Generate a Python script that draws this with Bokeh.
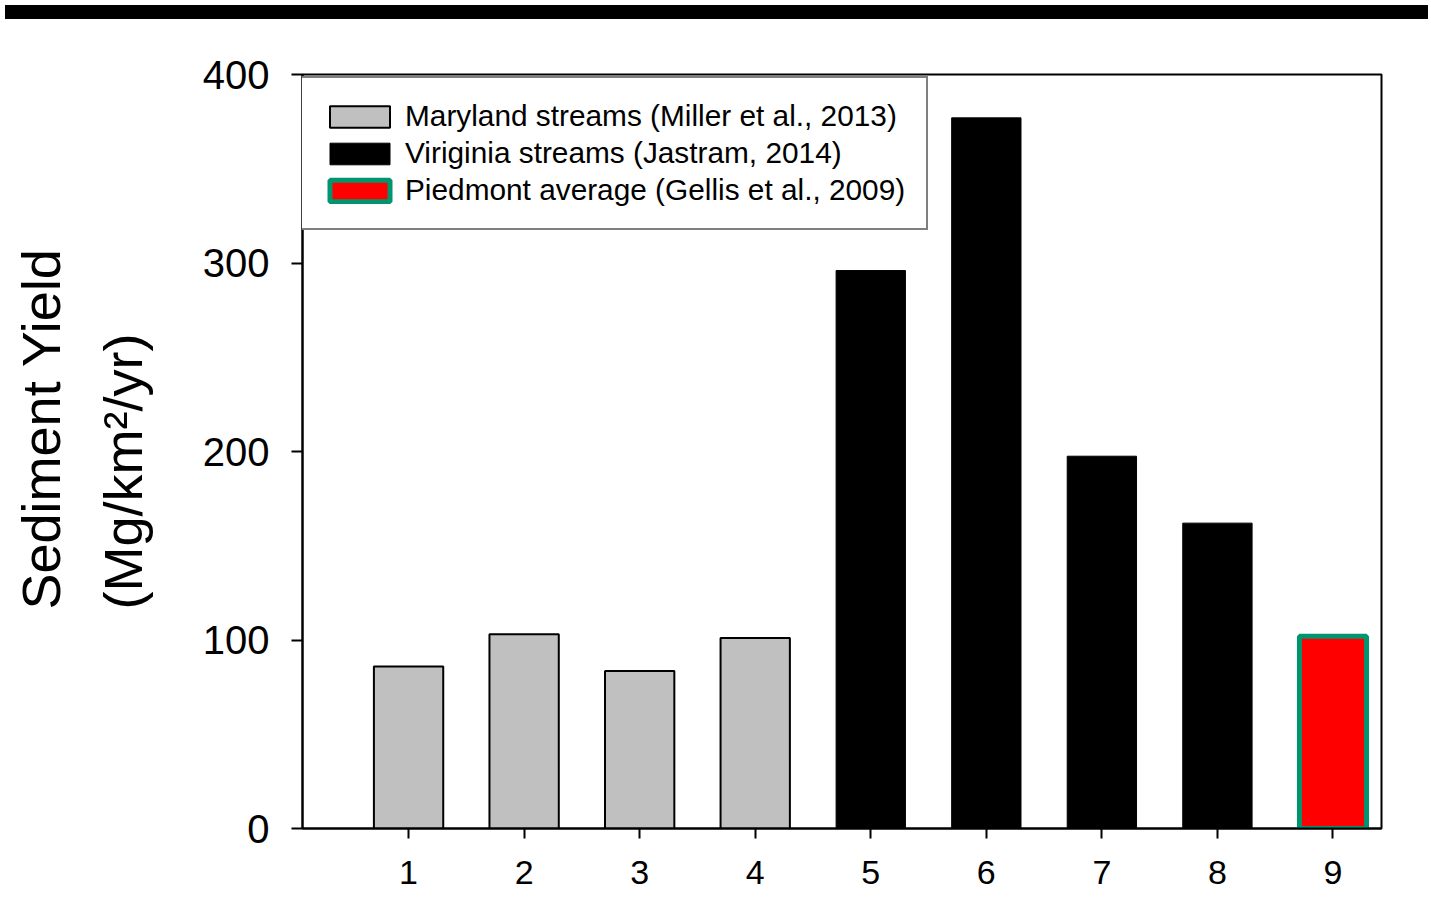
from bokeh.plotting import figure
from bokeh.models import (FixedTicker, Legend, LegendItem, Title, Div, Range1d)
from bokeh.layouts import column
from bokeh.embed import file_html
from bokeh.resources import INLINE

# ---- data ----
md_sites = [1, 2, 3, 4]
md_yield = [86, 103, 83.5, 101]
va_sites = [5, 6, 7, 8]
va_yield = [296, 377, 197.5, 162]
pd_sites = [9]
pd_yield = [102]
x_ticks = [1, 2, 3, 4, 5, 6, 7, 8, 9]
y_ticks = [0, 100, 200, 300, 400]
legend_labels = ["Maryland streams (Miller et al., 2013)",
                 "Viriginia streams (Jastram, 2014)",
                 "Piedmont average (Gellis et al., 2009)"]
y_label_lines = ["Sediment Yield", "(Mg/km²/yr)"]

FONT = "Liberation Sans"

p = figure(width=1423, height=882, output_backend="svg", toolbar_location=None,
           x_range=Range1d(0.082, 9.42), y_range=Range1d(0, 400),
           min_border_left=302, min_border_right=42,
           min_border_top=50, min_border_bottom=78)
p.background_fill_color = "white"
p.border_fill_color = "white"
p.outline_line_color = "black"
p.outline_line_width = 2
p.grid.visible = False

md = p.vbar(x=md_sites, top=md_yield, width=0.6, bottom=0,
            fill_color="#C0C0C0", line_color="black", line_width=2)
va = p.vbar(x=va_sites, top=va_yield, width=0.6, bottom=0,
            fill_color="black", line_color="black", line_width=1)
pdm = p.vbar(x=pd_sites, top=pd_yield, width=0.58, bottom=0,
             fill_color="#FF0000", line_color="#00956E", line_width=5)

# axes
p.xaxis.ticker = FixedTicker(ticks=x_ticks)
p.yaxis.ticker = FixedTicker(ticks=y_ticks)
for ax in (p.xaxis[0], p.yaxis[0]):
    ax.axis_line_width = 2
    ax.axis_line_color = "black"
    ax.major_tick_line_width = 2
    ax.major_tick_line_color = "black"
    ax.minor_tick_line_color = None
    ax.major_tick_in = 0
    ax.major_label_text_font = FONT
    ax.major_label_text_color = "black"
p.yaxis.major_tick_out = 11
p.yaxis.major_label_text_font_size = "40px"
p.yaxis.major_label_standoff = 22
p.xaxis.major_tick_out = 10
p.xaxis.major_label_text_font_size = "34px"
p.xaxis.major_label_standoff = 22

# y-axis label as two side titles
t2 = Title(text=y_label_lines[1], align="left", text_font=FONT,
           text_font_size="54px", text_font_style="normal",
           text_color="black", standoff=94, offset=219)
t1 = Title(text=y_label_lines[0], align="left", text_font=FONT,
           text_font_size="54px", text_font_style="normal",
           text_color="black", standoff=-54, offset=219)
p.add_layout(t2, "left")
p.add_layout(t1, "left")

legend = Legend(items=[LegendItem(label=legend_labels[0], renderers=[md]),
                       LegendItem(label=legend_labels[1], renderers=[va]),
                       LegendItem(label=legend_labels[2], renderers=[pdm])],
                location=(-3, 598))
legend.glyph_width = 75
legend.glyph_height = 27
legend.label_text_font = FONT
legend.label_text_font_size = "29.8px"
legend.label_text_color = "black"
legend.label_standoff = 8
legend.padding = 21
legend.spacing = 3
legend.margin = 0
legend.border_line_color = "black"
legend.border_line_width = 2
legend.background_fill_color = "white"
legend.background_fill_alpha = 1.0
p.add_layout(legend)

band = Div(width=1423, height=14, styles={"background-color": "black"})
layout = column(band, p, spacing=0)

open("out.html", "w").write(file_html(layout, INLINE))
